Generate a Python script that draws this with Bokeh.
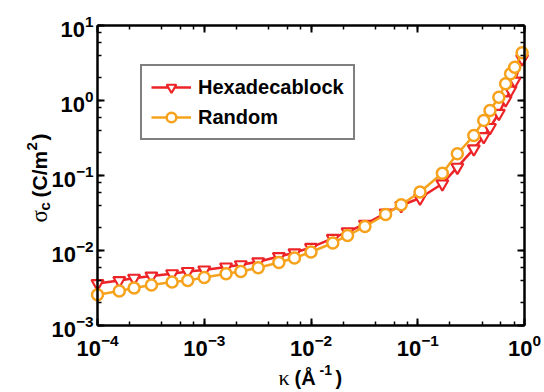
import math
from bokeh.plotting import figure
from bokeh.models import LogAxis, Label, Legend, LegendItem, CustomJSTickFormatter, Range1d
from bokeh.embed import file_html
from bokeh.resources import INLINE

# ---- data ----
kappa = [1.0e-4, 1.6e-4, 2.2e-4, 3.2e-4, 5.0e-4, 7.0e-4,
         1.0e-3, 1.6e-3, 2.2e-3, 3.2e-3, 5.0e-3, 7.0e-3,
         1.0e-2, 1.6e-2, 2.2e-2, 3.2e-2, 5.0e-2, 7.0e-2,
         0.105, 0.17, 0.235, 0.335, 0.415, 0.475, 0.575, 0.665, 0.74, 0.81, 0.95]

sigma_hexadecablock = [3.63e-3, 3.98e-3, 4.27e-3, 4.57e-3, 4.90e-3, 5.25e-3,
                       5.50e-3, 6.03e-3, 6.46e-3, 7.08e-3, 8.32e-3, 9.33e-3,
                       1.10e-2, 1.45e-2, 1.78e-2, 2.24e-2, 3.16e-2, 3.98e-2,
                       5.01e-2, 7.76e-2, 0.129, 0.227, 0.331, 0.437, 0.676,
                       1.02, 1.38, 1.82, 3.6]

sigma_random = [2.57e-3, 2.88e-3, 3.16e-3, 3.47e-3, 3.80e-3, 3.98e-3,
                4.37e-3, 4.90e-3, 5.25e-3, 5.89e-3, 6.92e-3, 7.94e-3,
                9.55e-3, 1.26e-2, 1.58e-2, 2.09e-2, 3.02e-2, 4.07e-2,
                6.03e-2, 0.107, 0.195, 0.341, 0.541, 0.736, 1.107,
                1.67, 2.27, 2.78, 4.33]

series_labels = ["Hexadecablock", "Random"]
x_limits = (1e-4, 1.0)
y_limits = (1e-3, 10.0)

RED = "#ec2327"
ORANGE = "#f7a21c"
FONT = "Liberation Sans"

# ---- layout: the plot box in canvas pixels ----
W, H = 544, 392
BOX_L, BOX_R, BOX_T, BOX_B = 97, 524, 25, 325

lx0, lx1 = math.log10(x_limits[0]), math.log10(x_limits[1])
ly0, ly1 = math.log10(y_limits[0]), math.log10(y_limits[1])
px_per_dec_x = (BOX_R - BOX_L) / (lx1 - lx0)
px_per_dec_y = (BOX_B - BOX_T) / (ly1 - ly0)
xr = Range1d(10 ** (lx0 - BOX_L / px_per_dec_x), 10 ** (lx1 + (W - BOX_R) / px_per_dec_x))
yr = Range1d(10 ** (ly0 - (H - BOX_B) / px_per_dec_y), 10 ** (ly1 + BOX_T / px_per_dec_y))

p = figure(width=W, height=H, x_axis_type="log", y_axis_type="log",
           x_range=xr, y_range=yr, x_axis_location=None, y_axis_location=None,
           output_backend="svg", toolbar_location=None,
           min_border_left=0, min_border_right=0, min_border_top=0, min_border_bottom=0)
p.xgrid.visible = False
p.ygrid.visible = False
p.outline_line_color = None
p.background_fill_color = "white"
p.border_fill_color = "white"


def style_axis(ax):
    ax.axis_line_width = 2.5
    ax.axis_line_color = "black"
    ax.major_tick_in = 7
    ax.major_tick_out = 0
    ax.minor_tick_in = 4
    ax.minor_tick_out = 0
    ax.major_tick_line_width = 2
    ax.minor_tick_line_width = 1.5
    ax.major_tick_line_color = "black"
    ax.minor_tick_line_color = "black"
    ax.major_label_text_font = FONT
    ax.major_label_text_font_style = "bold"
    ax.major_label_text_font_size = "22px"
    ax.major_label_text_color = "black"


axes = {
    "below": LogAxis(fixed_location=y_limits[0], bounds=x_limits, major_label_standoff=8),
    "left": LogAxis(fixed_location=x_limits[0], bounds=y_limits, major_label_standoff=4),
    "above": LogAxis(fixed_location=y_limits[1], bounds=x_limits,
                     formatter=CustomJSTickFormatter(code="return ''")),
    "right": LogAxis(fixed_location=x_limits[1], bounds=y_limits,
                     formatter=CustomJSTickFormatter(code="return ''")),
}
for side, ax in axes.items():
    style_axis(ax)
    p.add_layout(ax, side)

hex_line = p.line(kappa, sigma_hexadecablock, line_color=RED, line_width=2.5)
hex_pts = p.scatter(kappa, sigma_hexadecablock, marker="inverted_triangle", size=12,
                    line_color=RED, line_width=2.2, fill_color="white")
rnd_line = p.line(kappa, sigma_random, line_color=ORANGE, line_width=2.5)
rnd_pts = p.scatter(kappa, sigma_random, marker="circle", size=11,
                    line_color=ORANGE, line_width=2.5, fill_color="white")

legend = Legend(items=[LegendItem(label=series_labels[0], renderers=[hex_line, hex_pts]),
                       LegendItem(label=series_labels[1], renderers=[rnd_line, rnd_pts])],
                location=(140, H - 140), orientation="vertical",
                border_line_color="black", border_line_width=2.5,
                background_fill_color="white", background_fill_alpha=1.0,
                label_text_font=FONT, label_text_font_style="bold",
                label_text_font_size="20px", label_text_color="black",
                glyph_width=40, glyph_height=24, label_height=24,
                padding=9, spacing=6, margin=0, label_standoff=7)
p.add_layout(legend)


def lab(text, x, y, size, font=FONT, style="bold", angle=0):
    p.add_layout(Label(x=x, y=y, x_units="screen", y_units="screen", text=text,
                       text_font=font, text_font_style=style, text_font_size=size,
                       text_color="black", angle=angle, angle_units="deg",
                       text_align="left", text_baseline="alphabetic"))


# x-axis label: kappa (Å^-1)
lab("κ", 278, 15, "22px", font="Liberation Serif", style="normal")
lab("(Å", 294, 15, "20px")
lab("-1", 319, 23, "14px")
lab(")", 335, 15, "20px")

# y-axis label: sigma_c (C/m^2)
lab("σ", 39, 170, "23px", font="Liberation Serif", style="normal", angle=90)
lab("c", 44, 182, "15px", angle=90)
lab("(C/m", 39, 195, "21px", angle=90)
lab("2", 31, 242, "15px", angle=90)
lab(")", 39, 252, "21px", angle=90)

open("out.html", "w").write(file_html(p, INLINE))
